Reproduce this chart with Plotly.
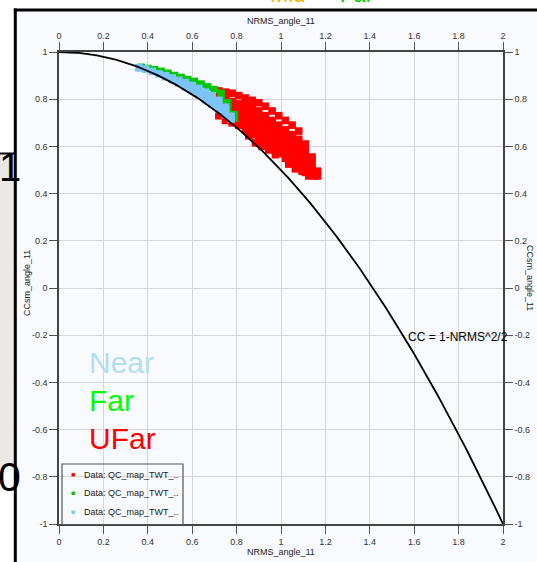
import numpy as np
import plotly.graph_objects as go

# ---------------- data ----------------
x_ticks = [0, 0.2, 0.4, 0.6, 0.8, 1, 1.2, 1.4, 1.6, 1.8, 2]
x_tick_labels = ["0", "0.2", "0.4", "0.6", "0.8", "1", "1.2", "1.4", "1.6", "1.8", "2"]
y_ticks = [-1, -0.8, -0.6, -0.4, -0.2, 0, 0.2, 0.4, 0.6, 0.8, 1]
y_tick_labels = ["-1", "-0.8", "-0.6", "-0.4", "-0.2", "0", "0.2", "0.4", "0.6", "0.8", "1"]

series_names = ["Data: QC_map_TWT_..", "Data: QC_map_TWT_..", "Data: QC_map_TWT_.."]
group_labels = ["Near", "Far", "UFar"]

# UFar (red) cloud
red_nrms = [
    0.72, 0.72, 0.72, 0.72, 0.72,
    0.75, 0.75, 0.75, 0.75, 0.75,
    0.78, 0.78, 0.78, 0.78, 0.78,
    0.81, 0.81, 0.81, 0.81, 0.81,
    0.84, 0.84, 0.84, 0.84, 0.84, 0.84,
    0.87, 0.87, 0.87, 0.87, 0.87, 0.87,
    0.90, 0.90, 0.90, 0.90, 0.90, 0.90,
    0.93, 0.93, 0.93, 0.93, 0.93, 0.93,
    0.96, 0.96, 0.96, 0.96, 0.96, 0.96,
    0.99, 0.99, 0.99, 0.99, 0.99, 0.99,
    1.02, 1.02, 1.02, 1.02, 1.02, 1.02,
    1.05, 1.05, 1.05, 1.05, 1.05, 1.05,
    1.08, 1.08, 1.08, 1.08, 1.08, 1.08,
    1.11, 1.11, 1.11, 1.11, 1.11,
    1.14, 1.14, 1.14, 1.14,
    1.165, 1.165,
    0.855, 0.885, 0.915, 0.945, 1.035, 1.095, 1.125, 1.155, 1.065, 0.975,
]
red_cc = [
    0.73, 0.76, 0.79, 0.82, 0.835,
    0.71, 0.74, 0.77, 0.80, 0.83,
    0.70, 0.73, 0.76, 0.79, 0.825,
    0.69, 0.72, 0.75, 0.78, 0.815,
    0.67, 0.70, 0.73, 0.76, 0.79, 0.805,
    0.65, 0.68, 0.71, 0.74, 0.77, 0.795,
    0.63, 0.66, 0.69, 0.72, 0.75, 0.785,
    0.61, 0.64, 0.67, 0.70, 0.73, 0.77,
    0.59, 0.62, 0.65, 0.68, 0.71, 0.75,
    0.57, 0.60, 0.63, 0.66, 0.69, 0.73,
    0.55, 0.58, 0.61, 0.64, 0.67, 0.71,
    0.53, 0.56, 0.59, 0.62, 0.65, 0.69,
    0.51, 0.54, 0.57, 0.60, 0.63, 0.665,
    0.49, 0.52, 0.55, 0.58, 0.61,
    0.48, 0.51, 0.54, 0.555,
    0.475, 0.495,
    0.645, 0.615, 0.60, 0.585, 0.525, 0.495, 0.475, 0.475, 0.505, 0.565,
]

# Far (green) cloud
green_nrms = [0.37, 0.40, 0.43, 0.46, 0.49, 0.52, 0.55, 0.58, 0.61, 0.64, 0.67, 0.70,
              0.73, 0.73, 0.76, 0.76, 0.79, 0.79]
green_cc = [0.935, 0.93, 0.925, 0.918, 0.91, 0.90, 0.892, 0.883, 0.875, 0.864, 0.852, 0.84,
            0.825, 0.80, 0.785, 0.76, 0.735, 0.72]

# Near (light blue) cloud
blue_nrms = [0.36, 0.39, 0.42, 0.45,
             0.48, 0.48, 0.51, 0.51, 0.54, 0.54, 0.57, 0.57,
             0.60, 0.60, 0.60, 0.63, 0.63, 0.63, 0.66, 0.66, 0.66,
             0.69, 0.69, 0.69, 0.72, 0.72, 0.72, 0.75, 0.75, 0.75,
             0.775, 0.775]
blue_cc = [0.933, 0.928, 0.918, 0.907,
           0.895, 0.90, 0.883, 0.89, 0.868, 0.88, 0.853, 0.87,
           0.836, 0.848, 0.858, 0.818, 0.833, 0.846, 0.798, 0.815, 0.83,
           0.778, 0.797, 0.815, 0.757, 0.777, 0.795, 0.735, 0.752, 0.766,
           0.716, 0.728]

# reference relation CC = 1 - NRMS^2/2
curve_nrms = np.linspace(0, 2, 201)
curve_cc = 1 - curve_nrms ** 2 / 2

# ---------------- geometry helpers (pixels -> paper) ----------------
W, H = 537, 562
ML, MR, MT, MB = 59, 34, 52, 38
PW, PH = W - ML - MR, H - MT - MB


def px(x):
    return (x - ML) / PW


def py(y):
    return (H - MB - y) / PH


FONT = "Liberation Sans, Arial, Helvetica, sans-serif"
RED, GREEN, BLUE = "#ff0000", "#00c800", "#7cc4f8"

fig = go.Figure()

for nx, ny, col, nm in [(red_nrms, red_cc, RED, series_names[0]),
                        (green_nrms, green_cc, GREEN, series_names[1]),
                        (blue_nrms, blue_cc, BLUE, series_names[2])]:
    fig.add_trace(go.Scatter(x=nx, y=ny, mode="markers", name=nm,
                             marker=dict(symbol="square", size=7.6, color=col,
                                         line=dict(width=0)),
                             showlegend=False))
fig.add_trace(go.Scatter(x=curve_nrms, y=curve_cc, mode="lines",
                         line=dict(color="black", width=1.8), showlegend=False,
                         hoverinfo="skip"))
# dummy trace to anchor the mirrored axes
fig.add_trace(go.Scatter(x=[None], y=[None], xaxis="x2", yaxis="y2",
                         showlegend=False, hoverinfo="skip"))

axis_common = dict(ticks="outside", ticklen=8, tickwidth=1, tickcolor="#555",
                   showline=True, linecolor="#444", linewidth=1.5, automargin=False,
                   zeroline=False, tickfont=dict(family=FONT, size=9, color="#333"))

fig.update_layout(
    width=W, height=H, autosize=False,
    margin=dict(l=ML, r=MR, t=MT, b=MB, pad=0, autoexpand=False),
    paper_bgcolor="#f8fafd", plot_bgcolor="#f8fafd",
    showlegend=False,
    xaxis=dict(range=[0, 2], tickvals=x_ticks, ticktext=x_tick_labels,
               showgrid=True, gridcolor="#d6d6d6", gridwidth=1.3, **axis_common),
    yaxis=dict(range=[-1, 1], tickvals=y_ticks, ticktext=y_tick_labels,
               showgrid=True, gridcolor="#d6d6d6", gridwidth=1.3, **axis_common),
    xaxis2=dict(range=[0, 2], tickvals=x_ticks, ticktext=x_tick_labels,
                overlaying="x", side="top", showgrid=False, **axis_common),
    yaxis2=dict(range=[-1, 1], tickvals=y_ticks, ticktext=y_tick_labels,
                overlaying="y", side="right", showgrid=False, **axis_common),
)

shapes = []
# surrounding screen pieces
shapes.append(dict(type="rect", xref="paper", yref="paper", x0=px(0), x1=px(W), y0=py(9), y1=py(0),
                   fillcolor="white", line=dict(width=0), layer="above"))
shapes.append(dict(type="rect", xref="paper", yref="paper", x0=px(0), x1=px(14), y0=py(H), y1=py(0),
                   fillcolor="white", line=dict(width=0), layer="above"))
shapes.append(dict(type="rect", xref="paper", yref="paper", x0=px(0), x1=px(14), y0=py(466), y1=py(153),
                   fillcolor="#ebe9e5", line=dict(width=0), layer="above"))
shapes.append(dict(type="line", xref="paper", yref="paper", x0=px(0), x1=px(14), y0=py(153.5), y1=py(153.5),
                   line=dict(color="black", width=2), layer="above"))
shapes.append(dict(type="line", xref="paper", yref="paper", x0=px(15.3), x1=px(15.3), y0=py(H), y1=py(8.6),
                   line=dict(color="black", width=3), layer="above"))
shapes.append(dict(type="line", xref="paper", yref="paper", x0=px(13.8), x1=px(W), y0=py(10), y1=py(10),
                   line=dict(color="black", width=3), layer="above"))
# legend box
shapes.append(dict(type="rect", xref="paper", yref="paper", x0=px(62), x1=px(183), y0=py(524.5), y1=py(464),
                   fillcolor="rgba(0,0,0,0)", line=dict(color="#555", width=1.2), layer="above"))
legend_rows = [474.8, 493.3, 512.2]
legend_cols = [RED, GREEN, BLUE]
for yy, cc in zip(legend_rows, legend_cols):
    shapes.append(dict(type="rect", xref="paper", yref="paper", x0=px(71.5), x1=px(75), y0=py(yy + 1.7),
                       y1=py(yy - 1.7), fillcolor=cc, line=dict(width=0), layer="above"))
fig.update_layout(shapes=shapes)

ann = []
# axis titles
ann.append(dict(xref="paper", yref="paper", x=0.5, y=py(20.5), text="NRMS_angle_11", showarrow=False,
                font=dict(family=FONT, size=9, color="#222"), xanchor="center", yanchor="middle"))
ann.append(dict(xref="paper", yref="paper", x=0.5, y=py(551.5), text="NRMS_angle_11", showarrow=False,
                font=dict(family=FONT, size=9, color="#222"), xanchor="center", yanchor="middle"))
ann.append(dict(xref="paper", yref="paper", x=px(27), y=py(283), text="CCsm_angle_11", showarrow=False,
                textangle=-90, font=dict(family=FONT, size=9, color="#222"),
                xanchor="center", yanchor="middle"))
ann.append(dict(xref="paper", yref="paper", x=px(530), y=py(278), text="CCsm_angle_11", showarrow=False,
                textangle=90, font=dict(family=FONT, size=9, color="#222"),
                xanchor="center", yanchor="middle"))
# curve label
ann.append(dict(xref="x", yref="y", x=1.565, y=-0.208, text="CC = 1-NRMS^2/2", showarrow=False,
                font=dict(family=FONT, size=12, color="black"), xanchor="left", yanchor="middle"))
# group labels
for lab, yv, col in zip(group_labels, [-0.314, -0.475, -0.636], ["#b3def0", "#00ff00", "#ff0000"]):
    ann.append(dict(xref="x", yref="y", x=0.125, y=yv, text=lab, showarrow=False,
                    font=dict(family=FONT, size=30, color=col), xanchor="left", yanchor="middle"))
# legend texts
for yy, nm in zip(legend_rows, series_names):
    ann.append(dict(xref="paper", yref="paper", x=px(82), y=py(yy), text=nm, showarrow=False,
                    font=dict(family=FONT, size=9, color="#222"), xanchor="left", yanchor="middle"))
# background screen fragments
ann.append(dict(xref="paper", yref="paper", x=px(10), y=py(167), text="1", showarrow=False,
                font=dict(family=FONT, size=40, color="black"), xanchor="center", yanchor="middle"))
ann.append(dict(xref="paper", yref="paper", x=px(9), y=py(477), text="0", showarrow=False,
                font=dict(family=FONT, size=41, color="black"), xanchor="center", yanchor="middle"))
ann.append(dict(xref="paper", yref="paper", x=px(287), y=py(-5), text="Mid", showarrow=False,
                font=dict(family=FONT, size=22, color="#f5b400"), xanchor="center", yanchor="middle"))
ann.append(dict(xref="paper", yref="paper", x=px(356), y=py(-5), text="Far", showarrow=False,
                font=dict(family=FONT, size=22, color="#00cc00"), xanchor="center", yanchor="middle"))
fig.update_layout(annotations=ann)

fig.write_html("out.html", config={"displayModeBar": False},
               post_script="document.body.style.margin='0';document.body.style.overflow='hidden';")
